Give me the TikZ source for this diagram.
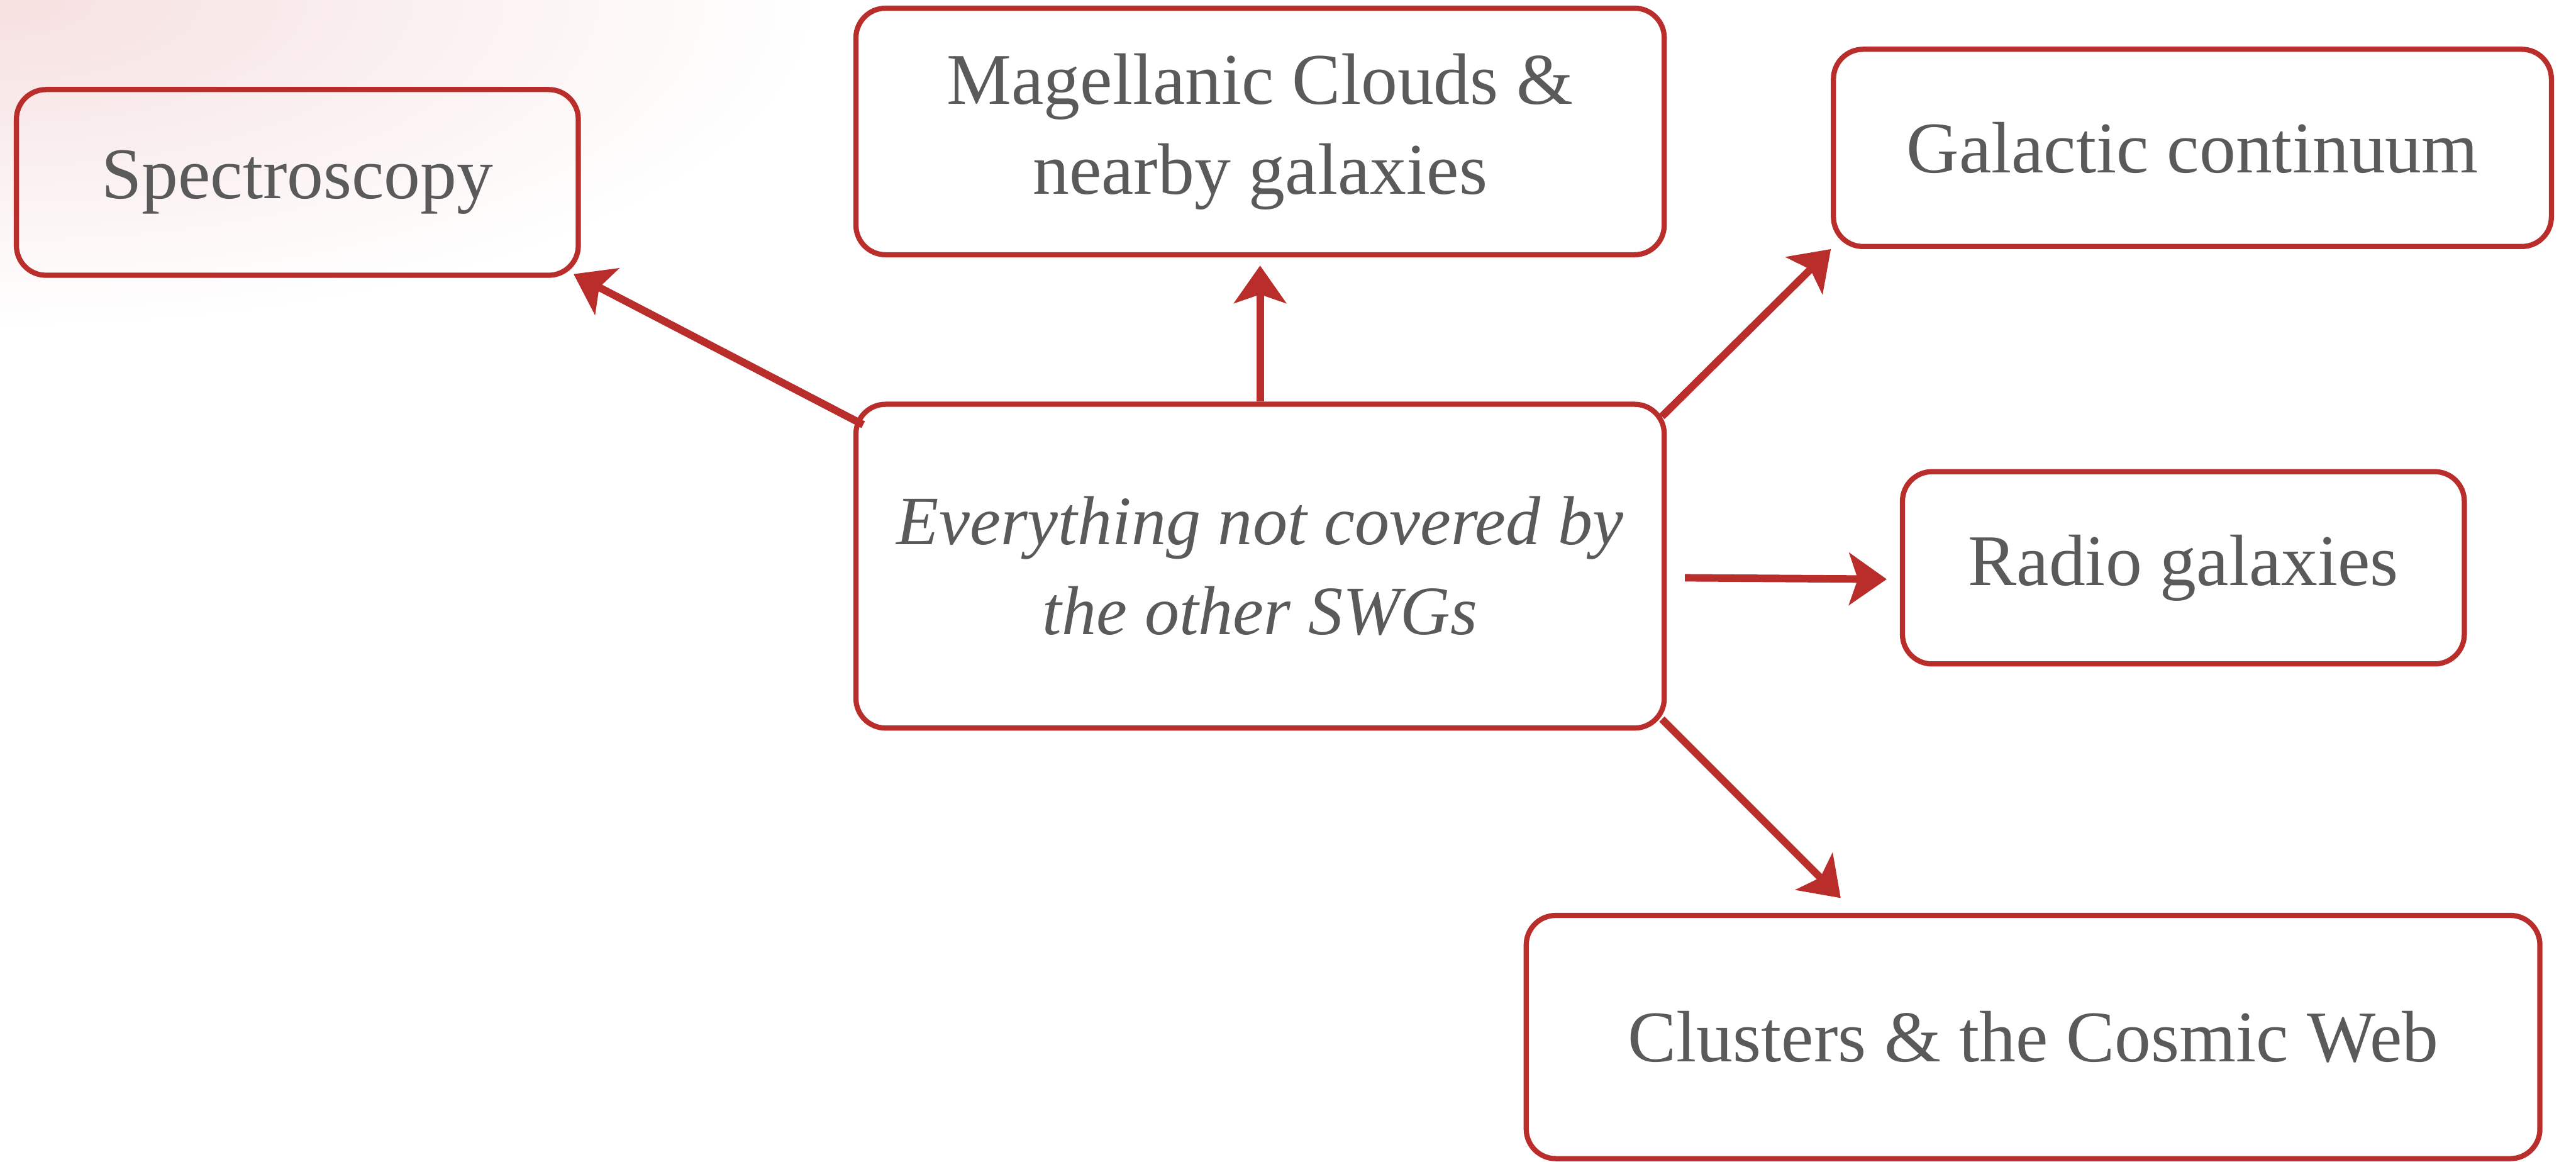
\documentclass[tikz,border=0pt]{standalone}
\usepackage{fontspec}
\setmainfont{Liberation Serif}
\usepackage{tikz}
\usetikzlibrary{arrows.meta, positioning}
\usepackage{xcolor}

\definecolor{inkred}{RGB}{185,45,42}
\definecolor{textgrey}{RGB}{90,90,90}
\definecolor{blush}{RGB}{246,224,224}

\begin{document}
\begin{tikzpicture}
        % Styles
        \tikzset{
          topic/.style={
            draw=inkred,
            line width=0.9pt,
            rounded corners=0.18cm,
            align=center,
            text=textgrey,
            font=\fontsize{12.6}{15.6}\selectfont,
            inner sep=0pt
          },
          link/.style={
            draw=inkred,
            line width=1.3pt,
            -{Stealth[length=6.5pt,width=9pt,inset=1.5pt]}
          }
        }

        % page frame
        \useasboundingbox (0,0) rectangle (15.68,7.07);

        % faint wash in the corner
        \begin{scope}
          \clip (0,0) rectangle (15.68,7.07);
          \shade[inner color=blush, outer color=white]
            (-5,5.07) rectangle (5,9.07);
        \end{scope}

        % the central question
        \node[topic, minimum width=4.92cm, minimum height=1.97cm,
              font=\fontsize{12}{15.6}\selectfont\itshape]
          (c) at (7.67,3.625) {Everything not covered by\\the other SWGs};

        % surrounding topics
        \node[topic, minimum width=3.42cm, minimum height=1.13cm]
          (spec) at (1.81,5.96) {Spectroscopy};
        \node[topic, minimum width=4.92cm, minimum height=1.50cm]
          (mag) at (7.67,6.27) {Magellanic Clouds \&\\nearby galaxies};
        \node[topic, minimum width=4.37cm, minimum height=1.20cm]
          (gal) at (13.345,6.17) {Galactic continuum};
        \node[topic, minimum width=3.42cm, minimum height=1.17cm]
          (radio) at (13.29,3.615) {Radio galaxies};
        \node[topic, minimum width=6.17cm, minimum height=1.48cm]
          (clu) at (12.375,0.76) {Clusters \& the Cosmic Web};

        % arrows out of the centre
        \draw[link, shorten >=-0.05cm]
          ([shift={(0.06,-0.14)}]c.north west) -- (spec.south east);
        \draw[link, shorten >=0.05cm] (c.north) -- (mag.south);
        \draw[link]
          ([shift={(-0.03,-0.09)}]c.north east) -- (gal.south west);
        \draw[link, shorten <=0.11cm, shorten >=0.08cm]
          ([yshift=-0.07cm]c.east) -- ([yshift=-0.07cm]radio.west);
        \draw[link]
          ([shift={(-0.03,0.07)}]c.south east)
          -- ([xshift=1.93cm,yshift=0.09cm]clu.north west);
    \end{tikzpicture}
\end{document}
